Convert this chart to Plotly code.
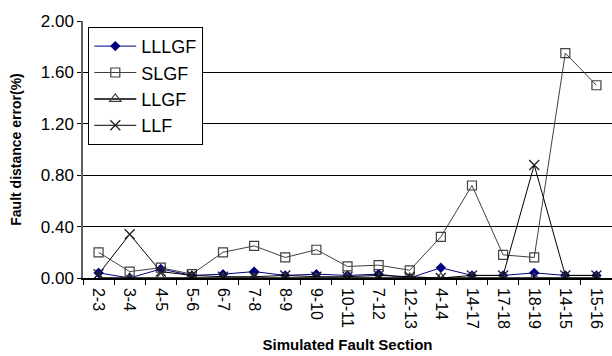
import plotly.graph_objects as go

sections = ["2-3", "3-4", "4-5", "5-6", "6-7", "7-8", "8-9", "9-10", "10-11",
            "7-12", "12-13", "4-14", "14-17", "17-18", "18-19", "14-15", "15-16"]

lllgf = [0.04, 0.00, 0.07, 0.02, 0.03, 0.05, 0.02, 0.03, 0.02,
         0.03, 0.00, 0.08, 0.02, 0.02, 0.04, 0.02, 0.02]
slgf = [0.20, 0.05, 0.08, 0.03, 0.20, 0.25, 0.16, 0.22, 0.09,
        0.10, 0.06, 0.32, 0.72, 0.18, 0.16, 1.75, 1.50]
llgf = [0.00, 0.00, 0.00, 0.00, 0.00, 0.00, 0.00, 0.00, 0.00,
        0.00, 0.00, 0.00, 0.00, 0.00, 0.00, 0.00, 0.00]
llf = [0.03, 0.34, 0.05, 0.02, 0.01, 0.01, 0.02, 0.01, 0.01,
       0.02, 0.01, 0.00, 0.02, 0.02, 0.88, 0.02, 0.02]

y_ticks = [0.0, 0.4, 0.8, 1.2, 1.6, 2.0]

fig = go.Figure()

fig.add_trace(go.Scatter(
    x=sections, y=lllgf, name="LLLGF", mode="lines+markers",
    line=dict(color="#000080", width=1),
    marker=dict(symbol="diamond", size=8, color="#000080"),
))
fig.add_trace(go.Scatter(
    x=sections, y=slgf, name="SLGF", mode="lines+markers",
    line=dict(color="#404040", width=1),
    marker=dict(symbol="square-open", size=9, color="#404040",
                line=dict(width=1.2)),
))
fig.add_trace(go.Scatter(
    x=sections, y=llgf, name="LLGF", mode="lines+markers",
    line=dict(color="#000000", width=1.5),
    marker=dict(symbol="triangle-up-open", size=10, color="#404040",
                line=dict(width=1.2)),
))
fig.add_trace(go.Scatter(
    x=sections, y=llf, name="LLF", mode="lines+markers",
    line=dict(color="#000000", width=1),
    marker=dict(symbol="x-thin-open", size=10, color="#202020",
                line=dict(width=1.3, color="#202020")),
))

fig.update_layout(
    width=612, height=356,
    margin=dict(l=83, r=0, t=21, b=78),
    paper_bgcolor="white", plot_bgcolor="white",
    font=dict(family="Liberation Sans, Arial, sans-serif", color="black"),
    showlegend=True,
    legend=dict(
        x=0.01, y=0.977, xanchor="left", yanchor="top",
        bgcolor="white", bordercolor="black", borderwidth=1,
        font=dict(size=18, color="black"),
        itemwidth=42, tracegroupgap=0,
    ),
    xaxis=dict(
        type="category", range=[-0.5, 16.5],
        tickangle=90, tickfont=dict(size=16),
        ticks="outside", ticklen=5, tickcolor="black",
        tickson="boundaries", ticklabelstandoff=5,
        showline=True, linecolor="black", linewidth=1.5,
        showgrid=False, zeroline=False,
        title=dict(text="<b>Simulated Fault Section</b>",
                   font=dict(size=15), standoff=12),
    ),
    yaxis=dict(
        range=[0, 2.0], tickvals=y_ticks,
        tickformat=".2f", tickfont=dict(size=17),
        ticks="outside", ticklen=4, tickcolor="black",
        showline=True, linecolor="#606060", linewidth=1.5,
        showgrid=True, gridcolor="black", gridwidth=1,
        zeroline=False,
        title=dict(text="<b>Fault distance error(%)</b>",
                   font=dict(size=14), standoff=16),
    ),
)

fig.write_html("out.html")
